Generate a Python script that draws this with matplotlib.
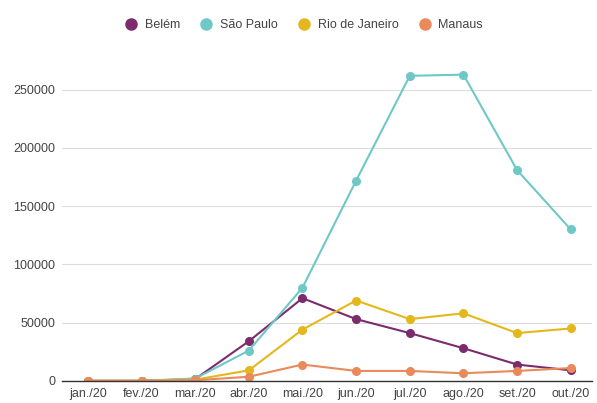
import matplotlib.pyplot as plt
import numpy as np

plt.rcParams['font.family'] = ['Liberation Sans', 'DejaVu Sans']

months = ["jan./20", "fev./20", "mar./20", "abr./20", "mai./20",
          "jun./20", "jul./20", "ago./20", "set./20", "out./20"]

belem = [0, 0, 1500, 34000, 71000, 53000, 41000, 28000, 14000, 9000]
sao_paulo = [0, 0, 2000, 26000, 80000, 172000, 262000, 263000, 181000, 130000]
rio = [0, 0, 1000, 9000, 44000, 69000, 53000, 58000, 41000, 45000]
manaus = [0, 0, 500, 3500, 14000, 8500, 8500, 6500, 8500, 11000]

series = [
    ("Belém", belem, "#7b2b6e"),
    ("São Paulo", sao_paulo, "#6fc8c8"),
    ("Rio de Janeiro", rio, "#e3b81c"),
    ("Manaus", manaus, "#e98a5b"),
]

fig = plt.figure(figsize=(5.97, 4.03), dpi=100)
ax = fig.add_axes([0.104, 0.055, 0.888, 0.78])

x = np.arange(len(months))
for name, vals, col in series:
    ax.plot(x, vals, color=col, lw=1.5, marker="o", ms=5.5, label=name)

ax.set_xlim(-0.48, 9.4)
ax.set_ylim(0, 270000)
ax.set_yticks([0, 50000, 100000, 150000, 200000, 250000])
ax.set_yticklabels(["0", "50000", "100000", "150000", "200000", "250000"])
ax.set_xticks(x)
ax.set_xticklabels(months)
ax.tick_params(length=0, labelsize=9, colors="#444444", pad=5)
ax.grid(axis="y", color="#dddddd", lw=0.8)
ax.set_axisbelow(True)
for s in ["top", "right", "left"]:
    ax.spines[s].set_visible(False)
ax.spines["bottom"].set_color("#333333")
ax.spines["bottom"].set_linewidth(1.0)

fig.legend(loc="center", bbox_to_anchor=(0.51, 0.937), ncol=4, frameon=False,
           fontsize=9, handlelength=0.8, handletextpad=0.7, columnspacing=1.7,
           labelcolor="#444444")
for h in fig.legends[0].legend_handles:
    h.set_linestyle("none")
    h.set_markersize(8)

fig.savefig("out.png", dpi=100, facecolor="white")
